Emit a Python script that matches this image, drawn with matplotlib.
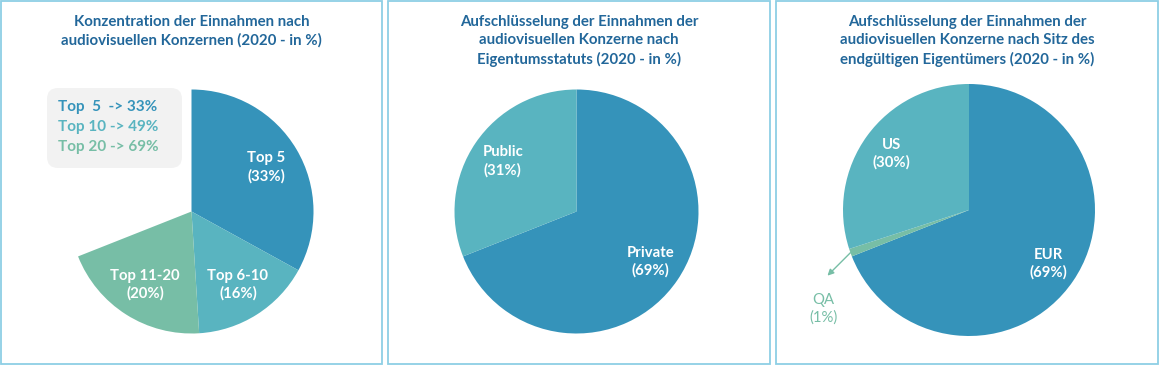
import numpy as np
import matplotlib
matplotlib.use("Agg")
import matplotlib.pyplot as plt
from matplotlib.patches import Rectangle, FancyBboxPatch

plt.rcParams['font.family'] = ['Lato', 'DejaVu Sans']

W, H = 1160, 366

# --- data ---
conc_labels = ["Top 5", "Top 6-10", "Top 11-20"]
conc_values = [33, 16, 20]
conc_summary = ["Top  5  -> 33%", "Top 10 -> 49%", "Top 20 -> 69%"]

own_labels = ["Private", "Public"]
own_values = [69, 31]

seat_labels = ["EUR", "QA", "US"]
seat_values = [69, 1, 30]

titles = [
    "Konzentration der Einnahmen nach\naudiovisuellen Konzernen (2020 - in %)",
    "Aufschlüsselung der Einnahmen der\naudiovisuellen Konzerne nach\nEigentumsstatuts (2020 - in %)",
    "Aufschlüsselung der Einnahmen der\naudiovisuellen Konzerne nach Sitz des\nendgültigen Eigentümers (2020 - in %)",
]

BLUE = '#3593ba'
TEAL = '#59b4c0'
GREEN = '#77bea6'
TITLE_C = '#22679a'
BORDER = '#8ecfe5'

fig = plt.figure(figsize=(W / 100, H / 100), dpi=100)
ax = fig.add_axes([0, 0, 1, 1])

# panel frames (pixel coords, y from top)
panels = [(1, 382), (388, 770), (776, 1158)]
for (x0, x1), title in zip(panels, titles):
    ax.add_patch(Rectangle((x0, H - 364), x1 - x0, 363, fill=False,
                           ec=BORDER, lw=1.3))
    n = title.count("\n") + 1
    ax.text((x0 + x1) / 2, H - (21 + 10 * (n - 1)), title, ha='center',
            va='center', fontsize=10.8, fontweight='bold', color=TITLE_C,
            linespacing=1.35)


def draw_pie(values, labels, cx, cy, r, colors, ld):
    text_labels = [f"{l}\n({v}%)" if l else "" for l, v in zip(labels, values)]
    wedges, texts = ax.pie(np.array(values) / 100, labels=text_labels,
                           colors=colors, startangle=90, counterclock=False,
                           normalize=False, center=(cx, H - cy), radius=r,
                           labeldistance=ld, frame=True,
                           wedgeprops=dict(linewidth=0),
                           textprops=dict(color='white', fontsize=10.7,
                                          fontweight='bold', ha='center',
                                          va='center', linespacing=1.3))
    return wedges, texts


# panel 1: partial pie
draw_pie(conc_values, conc_labels, 191.5, 211.5, 122, [BLUE, TEAL, GREEN], 0.71)
ax.add_patch(FancyBboxPatch((47, H - 168), 135, 80,
                            boxstyle="round,pad=0,rounding_size=11",
                            fc='#f2f2f2', ec='none'))
for i, (line, c) in enumerate(zip(conc_summary, [BLUE, TEAL, GREEN])):
    ax.text(58, H - (107 + 20 * i), line, ha='left', va='center',
            fontsize=11, fontweight='bold', color=c)

# panel 2
draw_pie(own_values, own_labels, 576.5, 211.5, 122, [BLUE, TEAL], 0.73)

# panel 3
qa_idx = seat_labels.index("QA")
pie_labels = [l if i != qa_idx else "" for i, l in enumerate(seat_labels)]
cx3, cy3, r3 = 969, 210, 126
wedges, texts = draw_pie(seat_values, pie_labels, cx3, cy3, r3,
                         [BLUE, GREEN, TEAL], 0.76)
w = wedges[qa_idx]
mid = np.deg2rad((w.theta1 + w.theta2) / 2)
px = cx3 + r3 * np.cos(mid)
py = (H - cy3) + r3 * np.sin(mid)
ax.annotate('', xy=(px - 23, py - 23), xytext=(px, py),
            arrowprops=dict(arrowstyle='-|>', color=GREEN, lw=1.0,
                            mutation_scale=9, shrinkA=0, shrinkB=0))
ax.text(px - 27, py - 56, f"{seat_labels[qa_idx]}\n({seat_values[qa_idx]}%)",
        ha='center', va='center', fontsize=10.7, color=GREEN, linespacing=1.3)

ax.set_xlim(0, W)
ax.set_ylim(0, H)
ax.set_aspect('equal')
ax.set_axis_off()

fig.savefig('out.png', dpi=100)
